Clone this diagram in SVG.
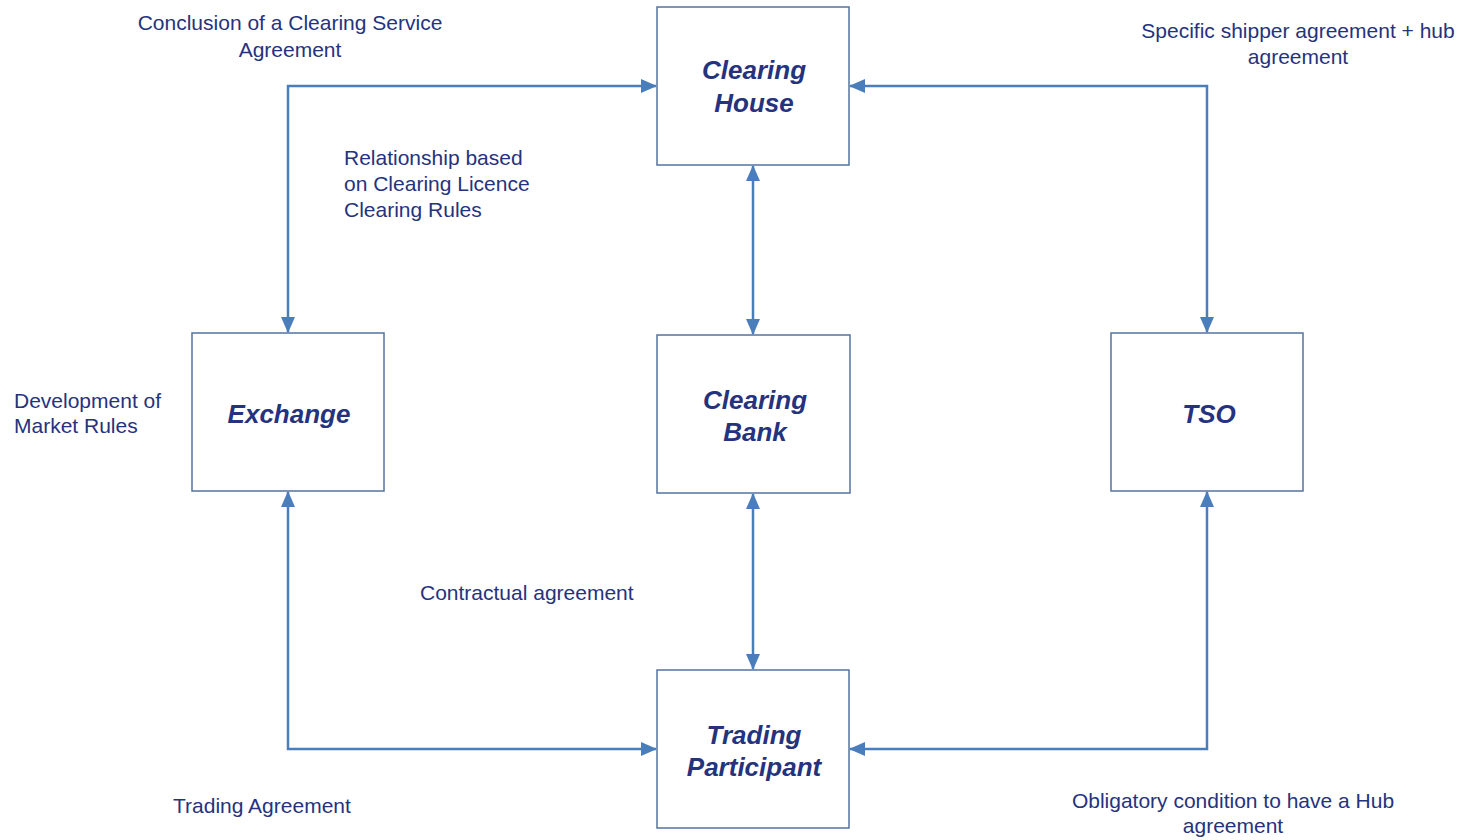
<svg xmlns="http://www.w3.org/2000/svg" width="1462" height="840" viewBox="0 0 1462 840">
<style>
.box{fill:#fff;stroke:#56739f;stroke-width:1.5}
.nt{font-family:"Liberation Sans",Arial,sans-serif;font-size:26px;font-weight:bold;font-style:italic;fill:#25337e;text-anchor:middle}
.lb{font-family:"Liberation Sans",Arial,sans-serif;font-size:21px;fill:#25337e}
.c{fill:none;stroke:#4a7ebb;stroke-width:2.5;marker-start:url(#a);marker-end:url(#a)}
</style>
<defs>
<marker id="a" markerUnits="userSpaceOnUse" markerWidth="16" markerHeight="16" viewBox="0 0 16 16" refX="15" refY="8" orient="auto-start-reverse">
<path d="M0,1 L16,8 L0,15 Z" fill="#4a7ebb"/>
</marker>
</defs>
<g id="connectors">
<path class="c" d="M288,332 V86 H656"/>
<path class="c" d="M1207,332 V86 H850"/>
<path class="c" d="M753,166 V334"/>
<path class="c" d="M753,494 V669"/>
<path class="c" d="M288,492 V749 H656"/>
<path class="c" d="M1207,492 V749 H850"/>
</g>
<g id="clearing-house">
<rect class="box" x="657" y="7" width="192" height="158"/>
<text class="nt" x="754" y="79">Clearing</text>
<text class="nt" x="754" y="112">House</text>
</g>
<g id="exchange">
<rect class="box" x="192" y="333" width="192" height="158"/>
<text class="nt" x="289" y="423">Exchange</text>
</g>
<g id="clearing-bank">
<rect class="box" x="657" y="335" width="193" height="158"/>
<text class="nt" x="755" y="409">Clearing</text>
<text class="nt" x="755" y="441">Bank</text>
</g>
<g id="tso">
<rect class="box" x="1111" y="333" width="192" height="158"/>
<text class="nt" x="1209" y="423">TSO</text>
</g>
<g id="trading-participant">
<rect class="box" x="657" y="670" width="192" height="158"/>
<text class="nt" x="754" y="744">Trading</text>
<text class="nt" x="754" y="776">Participant</text>
</g>
<g id="labels">
<text class="lb" x="290" y="30" text-anchor="middle">Conclusion of a Clearing Service</text>
<text class="lb" x="290" y="57" text-anchor="middle">Agreement</text>
<text class="lb" x="1298" y="38" text-anchor="middle">Specific shipper agreement + hub</text>
<text class="lb" x="1298" y="64" text-anchor="middle">agreement</text>
<text class="lb" x="344" y="165">Relationship based</text>
<text class="lb" x="344" y="191">on Clearing Licence</text>
<text class="lb" x="344" y="217">Clearing Rules</text>
<text class="lb" x="14" y="408">Development of</text>
<text class="lb" x="14" y="433">Market Rules</text>
<text class="lb" x="420" y="600">Contractual agreement</text>
<text class="lb" x="173" y="813">Trading Agreement</text>
<text class="lb" x="1233" y="808" text-anchor="middle">Obligatory condition to have a Hub</text>
<text class="lb" x="1233" y="833" text-anchor="middle">agreement</text>
</g>
</svg>
